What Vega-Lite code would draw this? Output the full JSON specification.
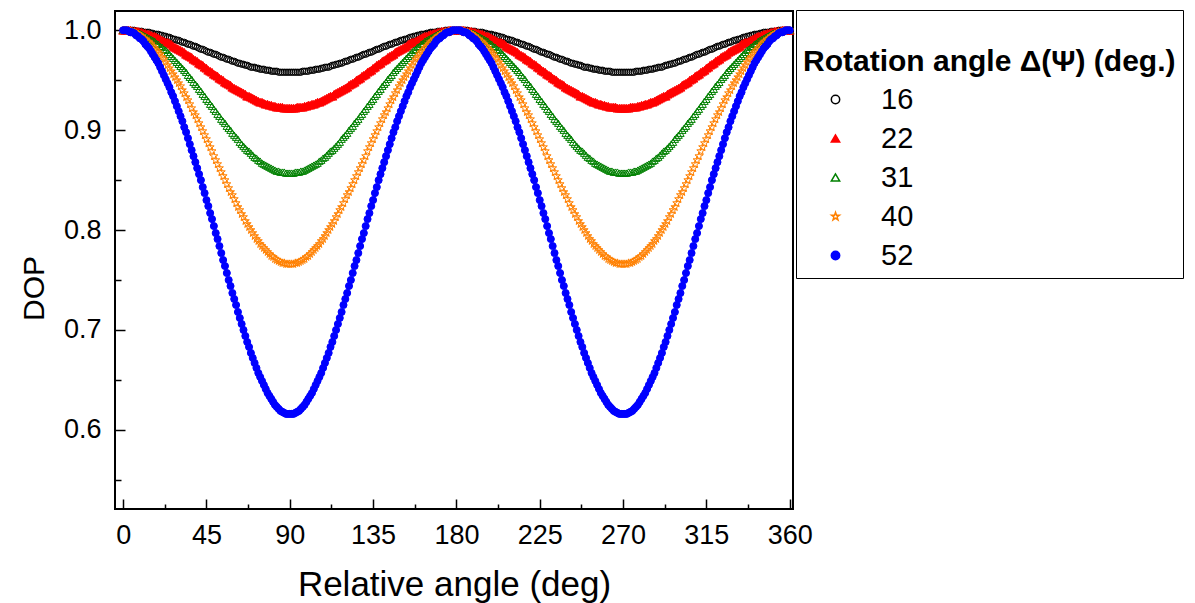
{"$schema":"https://vega.github.io/schema/vega-lite/v6.json","width":678,"height":498,"autosize":{"type":"none"},"padding":{"left":115,"top":11,"right":402,"bottom":94},"background":"white",
"config":{"view":{"stroke":"black","strokeWidth":2},"font":"Liberation Sans",
"axis":{"domain":false,"grid":false,"tickColor":"black","tickWidth":1.5,"labelColor":"black","labelFont":"Liberation Sans","titleFont":"Liberation Sans","titleColor":"black","titleFontWeight":"normal"},
"legend":{"padding":7,"strokeColor":"black","strokeWidth":1,"fillColor":"white","titleFont":"Liberation Sans","titleFontSize":30,"titleFontWeight":"bold","titleColor":"black","titleLineHeight":30,"titlePadding":8,"titleLimit":1000,"labelFont":"Liberation Sans","labelFontSize":29,"labelColor":"black","labelOffset":31,"labelLimit":300,"symbolOffset":18,"symbolSize":70,"symbolStrokeWidth":1.5,"rowPadding":9}},
"datasets":{
"s16":[{"deg":0,"dop":1},{"deg":1,"dop":1},{"deg":2,"dop":1},{"deg":3,"dop":1},{"deg":4,"dop":1},{"deg":5,"dop":1},{"deg":6,"dop":1},{"deg":7,"dop":0.999},{"deg":8,"dop":0.999},{"deg":9,"dop":0.999},{"deg":10,"dop":0.999},{"deg":11,"dop":0.998},{"deg":12,"dop":0.998},{"deg":13,"dop":0.998},{"deg":14,"dop":0.998},{"deg":15,"dop":0.997},{"deg":16,"dop":0.997},{"deg":17,"dop":0.996},{"deg":18,"dop":0.996},{"deg":19,"dop":0.996},{"deg":20,"dop":0.995},{"deg":21,"dop":0.995},{"deg":22,"dop":0.994},{"deg":23,"dop":0.994},{"deg":24,"dop":0.993},{"deg":25,"dop":0.993},{"deg":26,"dop":0.992},{"deg":27,"dop":0.991},{"deg":28,"dop":0.991},{"deg":29,"dop":0.99},{"deg":30,"dop":0.99},{"deg":31,"dop":0.989},{"deg":32,"dop":0.988},{"deg":33,"dop":0.988},{"deg":34,"dop":0.987},{"deg":35,"dop":0.986},{"deg":36,"dop":0.986},{"deg":37,"dop":0.985},{"deg":38,"dop":0.984},{"deg":39,"dop":0.984},{"deg":40,"dop":0.983},{"deg":41,"dop":0.982},{"deg":42,"dop":0.981},{"deg":43,"dop":0.981},{"deg":44,"dop":0.98},{"deg":45,"dop":0.979},{"deg":46,"dop":0.978},{"deg":47,"dop":0.978},{"deg":48,"dop":0.977},{"deg":49,"dop":0.976},{"deg":50,"dop":0.976},{"deg":51,"dop":0.975},{"deg":52,"dop":0.974},{"deg":53,"dop":0.973},{"deg":54,"dop":0.973},{"deg":55,"dop":0.972},{"deg":56,"dop":0.971},{"deg":57,"dop":0.971},{"deg":58,"dop":0.97},{"deg":59,"dop":0.969},{"deg":60,"dop":0.969},{"deg":61,"dop":0.968},{"deg":62,"dop":0.967},{"deg":63,"dop":0.967},{"deg":64,"dop":0.966},{"deg":65,"dop":0.966},{"deg":66,"dop":0.965},{"deg":67,"dop":0.965},{"deg":68,"dop":0.964},{"deg":69,"dop":0.963},{"deg":70,"dop":0.963},{"deg":71,"dop":0.963},{"deg":72,"dop":0.962},{"deg":73,"dop":0.962},{"deg":74,"dop":0.961},{"deg":75,"dop":0.961},{"deg":76,"dop":0.961},{"deg":77,"dop":0.96},{"deg":78,"dop":0.96},{"deg":79,"dop":0.96},{"deg":80,"dop":0.959},{"deg":81,"dop":0.959},{"deg":82,"dop":0.959},{"deg":83,"dop":0.959},{"deg":84,"dop":0.958},{"deg":85,"dop":0.958},{"deg":86,"dop":0.958},{"deg":87,"dop":0.958},{"deg":88,"dop":0.958},{"deg":89,"dop":0.958},{"deg":90,"dop":0.958},{"deg":91,"dop":0.958},{"deg":92,"dop":0.958},{"deg":93,"dop":0.958},{"deg":94,"dop":0.958},{"deg":95,"dop":0.958},{"deg":96,"dop":0.958},{"deg":97,"dop":0.959},{"deg":98,"dop":0.959},{"deg":99,"dop":0.959},{"deg":100,"dop":0.959},{"deg":101,"dop":0.96},{"deg":102,"dop":0.96},{"deg":103,"dop":0.96},{"deg":104,"dop":0.961},{"deg":105,"dop":0.961},{"deg":106,"dop":0.961},{"deg":107,"dop":0.962},{"deg":108,"dop":0.962},{"deg":109,"dop":0.963},{"deg":110,"dop":0.963},{"deg":111,"dop":0.963},{"deg":112,"dop":0.964},{"deg":113,"dop":0.965},{"deg":114,"dop":0.965},{"deg":115,"dop":0.966},{"deg":116,"dop":0.966},{"deg":117,"dop":0.967},{"deg":118,"dop":0.967},{"deg":119,"dop":0.968},{"deg":120,"dop":0.969},{"deg":121,"dop":0.969},{"deg":122,"dop":0.97},{"deg":123,"dop":0.971},{"deg":124,"dop":0.971},{"deg":125,"dop":0.972},{"deg":126,"dop":0.973},{"deg":127,"dop":0.973},{"deg":128,"dop":0.974},{"deg":129,"dop":0.975},{"deg":130,"dop":0.976},{"deg":131,"dop":0.976},{"deg":132,"dop":0.977},{"deg":133,"dop":0.978},{"deg":134,"dop":0.978},{"deg":135,"dop":0.979},{"deg":136,"dop":0.98},{"deg":137,"dop":0.981},{"deg":138,"dop":0.981},{"deg":139,"dop":0.982},{"deg":140,"dop":0.983},{"deg":141,"dop":0.984},{"deg":142,"dop":0.984},{"deg":143,"dop":0.985},{"deg":144,"dop":0.986},{"deg":145,"dop":0.986},{"deg":146,"dop":0.987},{"deg":147,"dop":0.988},{"deg":148,"dop":0.988},{"deg":149,"dop":0.989},{"deg":150,"dop":0.99},{"deg":151,"dop":0.99},{"deg":152,"dop":0.991},{"deg":153,"dop":0.991},{"deg":154,"dop":0.992},{"deg":155,"dop":0.993},{"deg":156,"dop":0.993},{"deg":157,"dop":0.994},{"deg":158,"dop":0.994},{"deg":159,"dop":0.995},{"deg":160,"dop":0.995},{"deg":161,"dop":0.996},{"deg":162,"dop":0.996},{"deg":163,"dop":0.996},{"deg":164,"dop":0.997},{"deg":165,"dop":0.997},{"deg":166,"dop":0.998},{"deg":167,"dop":0.998},{"deg":168,"dop":0.998},{"deg":169,"dop":0.998},{"deg":170,"dop":0.999},{"deg":171,"dop":0.999},{"deg":172,"dop":0.999},{"deg":173,"dop":0.999},{"deg":174,"dop":1},{"deg":175,"dop":1},{"deg":176,"dop":1},{"deg":177,"dop":1},{"deg":178,"dop":1},{"deg":179,"dop":1},{"deg":180,"dop":1},{"deg":181,"dop":1},{"deg":182,"dop":1},{"deg":183,"dop":1},{"deg":184,"dop":1},{"deg":185,"dop":1},{"deg":186,"dop":1},{"deg":187,"dop":0.999},{"deg":188,"dop":0.999},{"deg":189,"dop":0.999},{"deg":190,"dop":0.999},{"deg":191,"dop":0.998},{"deg":192,"dop":0.998},{"deg":193,"dop":0.998},{"deg":194,"dop":0.998},{"deg":195,"dop":0.997},{"deg":196,"dop":0.997},{"deg":197,"dop":0.996},{"deg":198,"dop":0.996},{"deg":199,"dop":0.996},{"deg":200,"dop":0.995},{"deg":201,"dop":0.995},{"deg":202,"dop":0.994},{"deg":203,"dop":0.994},{"deg":204,"dop":0.993},{"deg":205,"dop":0.993},{"deg":206,"dop":0.992},{"deg":207,"dop":0.991},{"deg":208,"dop":0.991},{"deg":209,"dop":0.99},{"deg":210,"dop":0.99},{"deg":211,"dop":0.989},{"deg":212,"dop":0.988},{"deg":213,"dop":0.988},{"deg":214,"dop":0.987},{"deg":215,"dop":0.986},{"deg":216,"dop":0.986},{"deg":217,"dop":0.985},{"deg":218,"dop":0.984},{"deg":219,"dop":0.984},{"deg":220,"dop":0.983},{"deg":221,"dop":0.982},{"deg":222,"dop":0.981},{"deg":223,"dop":0.981},{"deg":224,"dop":0.98},{"deg":225,"dop":0.979},{"deg":226,"dop":0.978},{"deg":227,"dop":0.978},{"deg":228,"dop":0.977},{"deg":229,"dop":0.976},{"deg":230,"dop":0.976},{"deg":231,"dop":0.975},{"deg":232,"dop":0.974},{"deg":233,"dop":0.973},{"deg":234,"dop":0.973},{"deg":235,"dop":0.972},{"deg":236,"dop":0.971},{"deg":237,"dop":0.971},{"deg":238,"dop":0.97},{"deg":239,"dop":0.969},{"deg":240,"dop":0.969},{"deg":241,"dop":0.968},{"deg":242,"dop":0.967},{"deg":243,"dop":0.967},{"deg":244,"dop":0.966},{"deg":245,"dop":0.966},{"deg":246,"dop":0.965},{"deg":247,"dop":0.965},{"deg":248,"dop":0.964},{"deg":249,"dop":0.963},{"deg":250,"dop":0.963},{"deg":251,"dop":0.963},{"deg":252,"dop":0.962},{"deg":253,"dop":0.962},{"deg":254,"dop":0.961},{"deg":255,"dop":0.961},{"deg":256,"dop":0.961},{"deg":257,"dop":0.96},{"deg":258,"dop":0.96},{"deg":259,"dop":0.96},{"deg":260,"dop":0.959},{"deg":261,"dop":0.959},{"deg":262,"dop":0.959},{"deg":263,"dop":0.959},{"deg":264,"dop":0.958},{"deg":265,"dop":0.958},{"deg":266,"dop":0.958},{"deg":267,"dop":0.958},{"deg":268,"dop":0.958},{"deg":269,"dop":0.958},{"deg":270,"dop":0.958},{"deg":271,"dop":0.958},{"deg":272,"dop":0.958},{"deg":273,"dop":0.958},{"deg":274,"dop":0.958},{"deg":275,"dop":0.958},{"deg":276,"dop":0.958},{"deg":277,"dop":0.959},{"deg":278,"dop":0.959},{"deg":279,"dop":0.959},{"deg":280,"dop":0.959},{"deg":281,"dop":0.96},{"deg":282,"dop":0.96},{"deg":283,"dop":0.96},{"deg":284,"dop":0.961},{"deg":285,"dop":0.961},{"deg":286,"dop":0.961},{"deg":287,"dop":0.962},{"deg":288,"dop":0.962},{"deg":289,"dop":0.963},{"deg":290,"dop":0.963},{"deg":291,"dop":0.963},{"deg":292,"dop":0.964},{"deg":293,"dop":0.965},{"deg":294,"dop":0.965},{"deg":295,"dop":0.966},{"deg":296,"dop":0.966},{"deg":297,"dop":0.967},{"deg":298,"dop":0.967},{"deg":299,"dop":0.968},{"deg":300,"dop":0.969},{"deg":301,"dop":0.969},{"deg":302,"dop":0.97},{"deg":303,"dop":0.971},{"deg":304,"dop":0.971},{"deg":305,"dop":0.972},{"deg":306,"dop":0.973},{"deg":307,"dop":0.973},{"deg":308,"dop":0.974},{"deg":309,"dop":0.975},{"deg":310,"dop":0.976},{"deg":311,"dop":0.976},{"deg":312,"dop":0.977},{"deg":313,"dop":0.978},{"deg":314,"dop":0.978},{"deg":315,"dop":0.979},{"deg":316,"dop":0.98},{"deg":317,"dop":0.981},{"deg":318,"dop":0.981},{"deg":319,"dop":0.982},{"deg":320,"dop":0.983},{"deg":321,"dop":0.984},{"deg":322,"dop":0.984},{"deg":323,"dop":0.985},{"deg":324,"dop":0.986},{"deg":325,"dop":0.986},{"deg":326,"dop":0.987},{"deg":327,"dop":0.988},{"deg":328,"dop":0.988},{"deg":329,"dop":0.989},{"deg":330,"dop":0.99},{"deg":331,"dop":0.99},{"deg":332,"dop":0.991},{"deg":333,"dop":0.991},{"deg":334,"dop":0.992},{"deg":335,"dop":0.993},{"deg":336,"dop":0.993},{"deg":337,"dop":0.994},{"deg":338,"dop":0.994},{"deg":339,"dop":0.995},{"deg":340,"dop":0.995},{"deg":341,"dop":0.996},{"deg":342,"dop":0.996},{"deg":343,"dop":0.996},{"deg":344,"dop":0.997},{"deg":345,"dop":0.997},{"deg":346,"dop":0.998},{"deg":347,"dop":0.998},{"deg":348,"dop":0.998},{"deg":349,"dop":0.998},{"deg":350,"dop":0.999},{"deg":351,"dop":0.999},{"deg":352,"dop":0.999},{"deg":353,"dop":0.999},{"deg":354,"dop":1},{"deg":355,"dop":1},{"deg":356,"dop":1},{"deg":357,"dop":1},{"deg":358,"dop":1},{"deg":359,"dop":1},{"deg":360,"dop":1}],
"s22":[{"deg":0,"dop":1},{"deg":1,"dop":1},{"deg":2,"dop":1},{"deg":3,"dop":1},{"deg":4,"dop":1},{"deg":5,"dop":0.999},{"deg":6,"dop":0.999},{"deg":7,"dop":0.999},{"deg":8,"dop":0.999},{"deg":9,"dop":0.998},{"deg":10,"dop":0.998},{"deg":11,"dop":0.997},{"deg":12,"dop":0.997},{"deg":13,"dop":0.996},{"deg":14,"dop":0.996},{"deg":15,"dop":0.995},{"deg":16,"dop":0.994},{"deg":17,"dop":0.994},{"deg":18,"dop":0.993},{"deg":19,"dop":0.992},{"deg":20,"dop":0.991},{"deg":21,"dop":0.99},{"deg":22,"dop":0.989},{"deg":23,"dop":0.988},{"deg":24,"dop":0.988},{"deg":25,"dop":0.987},{"deg":26,"dop":0.986},{"deg":27,"dop":0.984},{"deg":28,"dop":0.983},{"deg":29,"dop":0.982},{"deg":30,"dop":0.981},{"deg":31,"dop":0.98},{"deg":32,"dop":0.979},{"deg":33,"dop":0.978},{"deg":34,"dop":0.976},{"deg":35,"dop":0.975},{"deg":36,"dop":0.974},{"deg":37,"dop":0.973},{"deg":38,"dop":0.971},{"deg":39,"dop":0.97},{"deg":40,"dop":0.969},{"deg":41,"dop":0.967},{"deg":42,"dop":0.966},{"deg":43,"dop":0.965},{"deg":44,"dop":0.963},{"deg":45,"dop":0.962},{"deg":46,"dop":0.96},{"deg":47,"dop":0.959},{"deg":48,"dop":0.958},{"deg":49,"dop":0.956},{"deg":50,"dop":0.955},{"deg":51,"dop":0.954},{"deg":52,"dop":0.952},{"deg":53,"dop":0.951},{"deg":54,"dop":0.95},{"deg":55,"dop":0.948},{"deg":56,"dop":0.947},{"deg":57,"dop":0.946},{"deg":58,"dop":0.945},{"deg":59,"dop":0.943},{"deg":60,"dop":0.942},{"deg":61,"dop":0.941},{"deg":62,"dop":0.94},{"deg":63,"dop":0.939},{"deg":64,"dop":0.938},{"deg":65,"dop":0.937},{"deg":66,"dop":0.936},{"deg":67,"dop":0.934},{"deg":68,"dop":0.934},{"deg":69,"dop":0.933},{"deg":70,"dop":0.932},{"deg":71,"dop":0.931},{"deg":72,"dop":0.93},{"deg":73,"dop":0.929},{"deg":74,"dop":0.928},{"deg":75,"dop":0.928},{"deg":76,"dop":0.927},{"deg":77,"dop":0.926},{"deg":78,"dop":0.926},{"deg":79,"dop":0.925},{"deg":80,"dop":0.925},{"deg":81,"dop":0.924},{"deg":82,"dop":0.924},{"deg":83,"dop":0.923},{"deg":84,"dop":0.923},{"deg":85,"dop":0.923},{"deg":86,"dop":0.923},{"deg":87,"dop":0.922},{"deg":88,"dop":0.922},{"deg":89,"dop":0.922},{"deg":90,"dop":0.922},{"deg":91,"dop":0.922},{"deg":92,"dop":0.922},{"deg":93,"dop":0.922},{"deg":94,"dop":0.923},{"deg":95,"dop":0.923},{"deg":96,"dop":0.923},{"deg":97,"dop":0.923},{"deg":98,"dop":0.924},{"deg":99,"dop":0.924},{"deg":100,"dop":0.925},{"deg":101,"dop":0.925},{"deg":102,"dop":0.926},{"deg":103,"dop":0.926},{"deg":104,"dop":0.927},{"deg":105,"dop":0.928},{"deg":106,"dop":0.928},{"deg":107,"dop":0.929},{"deg":108,"dop":0.93},{"deg":109,"dop":0.931},{"deg":110,"dop":0.932},{"deg":111,"dop":0.933},{"deg":112,"dop":0.934},{"deg":113,"dop":0.934},{"deg":114,"dop":0.936},{"deg":115,"dop":0.937},{"deg":116,"dop":0.938},{"deg":117,"dop":0.939},{"deg":118,"dop":0.94},{"deg":119,"dop":0.941},{"deg":120,"dop":0.942},{"deg":121,"dop":0.943},{"deg":122,"dop":0.945},{"deg":123,"dop":0.946},{"deg":124,"dop":0.947},{"deg":125,"dop":0.948},{"deg":126,"dop":0.95},{"deg":127,"dop":0.951},{"deg":128,"dop":0.952},{"deg":129,"dop":0.954},{"deg":130,"dop":0.955},{"deg":131,"dop":0.956},{"deg":132,"dop":0.958},{"deg":133,"dop":0.959},{"deg":134,"dop":0.96},{"deg":135,"dop":0.962},{"deg":136,"dop":0.963},{"deg":137,"dop":0.965},{"deg":138,"dop":0.966},{"deg":139,"dop":0.967},{"deg":140,"dop":0.969},{"deg":141,"dop":0.97},{"deg":142,"dop":0.971},{"deg":143,"dop":0.973},{"deg":144,"dop":0.974},{"deg":145,"dop":0.975},{"deg":146,"dop":0.976},{"deg":147,"dop":0.978},{"deg":148,"dop":0.979},{"deg":149,"dop":0.98},{"deg":150,"dop":0.981},{"deg":151,"dop":0.982},{"deg":152,"dop":0.983},{"deg":153,"dop":0.984},{"deg":154,"dop":0.986},{"deg":155,"dop":0.987},{"deg":156,"dop":0.988},{"deg":157,"dop":0.988},{"deg":158,"dop":0.989},{"deg":159,"dop":0.99},{"deg":160,"dop":0.991},{"deg":161,"dop":0.992},{"deg":162,"dop":0.993},{"deg":163,"dop":0.994},{"deg":164,"dop":0.994},{"deg":165,"dop":0.995},{"deg":166,"dop":0.996},{"deg":167,"dop":0.996},{"deg":168,"dop":0.997},{"deg":169,"dop":0.997},{"deg":170,"dop":0.998},{"deg":171,"dop":0.998},{"deg":172,"dop":0.999},{"deg":173,"dop":0.999},{"deg":174,"dop":0.999},{"deg":175,"dop":0.999},{"deg":176,"dop":1},{"deg":177,"dop":1},{"deg":178,"dop":1},{"deg":179,"dop":1},{"deg":180,"dop":1},{"deg":181,"dop":1},{"deg":182,"dop":1},{"deg":183,"dop":1},{"deg":184,"dop":1},{"deg":185,"dop":0.999},{"deg":186,"dop":0.999},{"deg":187,"dop":0.999},{"deg":188,"dop":0.999},{"deg":189,"dop":0.998},{"deg":190,"dop":0.998},{"deg":191,"dop":0.997},{"deg":192,"dop":0.997},{"deg":193,"dop":0.996},{"deg":194,"dop":0.996},{"deg":195,"dop":0.995},{"deg":196,"dop":0.994},{"deg":197,"dop":0.994},{"deg":198,"dop":0.993},{"deg":199,"dop":0.992},{"deg":200,"dop":0.991},{"deg":201,"dop":0.99},{"deg":202,"dop":0.989},{"deg":203,"dop":0.988},{"deg":204,"dop":0.988},{"deg":205,"dop":0.987},{"deg":206,"dop":0.986},{"deg":207,"dop":0.984},{"deg":208,"dop":0.983},{"deg":209,"dop":0.982},{"deg":210,"dop":0.981},{"deg":211,"dop":0.98},{"deg":212,"dop":0.979},{"deg":213,"dop":0.978},{"deg":214,"dop":0.976},{"deg":215,"dop":0.975},{"deg":216,"dop":0.974},{"deg":217,"dop":0.973},{"deg":218,"dop":0.971},{"deg":219,"dop":0.97},{"deg":220,"dop":0.969},{"deg":221,"dop":0.967},{"deg":222,"dop":0.966},{"deg":223,"dop":0.965},{"deg":224,"dop":0.963},{"deg":225,"dop":0.962},{"deg":226,"dop":0.96},{"deg":227,"dop":0.959},{"deg":228,"dop":0.958},{"deg":229,"dop":0.956},{"deg":230,"dop":0.955},{"deg":231,"dop":0.954},{"deg":232,"dop":0.952},{"deg":233,"dop":0.951},{"deg":234,"dop":0.95},{"deg":235,"dop":0.948},{"deg":236,"dop":0.947},{"deg":237,"dop":0.946},{"deg":238,"dop":0.945},{"deg":239,"dop":0.943},{"deg":240,"dop":0.942},{"deg":241,"dop":0.941},{"deg":242,"dop":0.94},{"deg":243,"dop":0.939},{"deg":244,"dop":0.938},{"deg":245,"dop":0.937},{"deg":246,"dop":0.936},{"deg":247,"dop":0.934},{"deg":248,"dop":0.934},{"deg":249,"dop":0.933},{"deg":250,"dop":0.932},{"deg":251,"dop":0.931},{"deg":252,"dop":0.93},{"deg":253,"dop":0.929},{"deg":254,"dop":0.928},{"deg":255,"dop":0.928},{"deg":256,"dop":0.927},{"deg":257,"dop":0.926},{"deg":258,"dop":0.926},{"deg":259,"dop":0.925},{"deg":260,"dop":0.925},{"deg":261,"dop":0.924},{"deg":262,"dop":0.924},{"deg":263,"dop":0.923},{"deg":264,"dop":0.923},{"deg":265,"dop":0.923},{"deg":266,"dop":0.923},{"deg":267,"dop":0.922},{"deg":268,"dop":0.922},{"deg":269,"dop":0.922},{"deg":270,"dop":0.922},{"deg":271,"dop":0.922},{"deg":272,"dop":0.922},{"deg":273,"dop":0.922},{"deg":274,"dop":0.923},{"deg":275,"dop":0.923},{"deg":276,"dop":0.923},{"deg":277,"dop":0.923},{"deg":278,"dop":0.924},{"deg":279,"dop":0.924},{"deg":280,"dop":0.925},{"deg":281,"dop":0.925},{"deg":282,"dop":0.926},{"deg":283,"dop":0.926},{"deg":284,"dop":0.927},{"deg":285,"dop":0.928},{"deg":286,"dop":0.928},{"deg":287,"dop":0.929},{"deg":288,"dop":0.93},{"deg":289,"dop":0.931},{"deg":290,"dop":0.932},{"deg":291,"dop":0.933},{"deg":292,"dop":0.934},{"deg":293,"dop":0.934},{"deg":294,"dop":0.936},{"deg":295,"dop":0.937},{"deg":296,"dop":0.938},{"deg":297,"dop":0.939},{"deg":298,"dop":0.94},{"deg":299,"dop":0.941},{"deg":300,"dop":0.942},{"deg":301,"dop":0.943},{"deg":302,"dop":0.945},{"deg":303,"dop":0.946},{"deg":304,"dop":0.947},{"deg":305,"dop":0.948},{"deg":306,"dop":0.95},{"deg":307,"dop":0.951},{"deg":308,"dop":0.952},{"deg":309,"dop":0.954},{"deg":310,"dop":0.955},{"deg":311,"dop":0.956},{"deg":312,"dop":0.958},{"deg":313,"dop":0.959},{"deg":314,"dop":0.96},{"deg":315,"dop":0.962},{"deg":316,"dop":0.963},{"deg":317,"dop":0.965},{"deg":318,"dop":0.966},{"deg":319,"dop":0.967},{"deg":320,"dop":0.969},{"deg":321,"dop":0.97},{"deg":322,"dop":0.971},{"deg":323,"dop":0.973},{"deg":324,"dop":0.974},{"deg":325,"dop":0.975},{"deg":326,"dop":0.976},{"deg":327,"dop":0.978},{"deg":328,"dop":0.979},{"deg":329,"dop":0.98},{"deg":330,"dop":0.981},{"deg":331,"dop":0.982},{"deg":332,"dop":0.983},{"deg":333,"dop":0.984},{"deg":334,"dop":0.986},{"deg":335,"dop":0.987},{"deg":336,"dop":0.988},{"deg":337,"dop":0.988},{"deg":338,"dop":0.989},{"deg":339,"dop":0.99},{"deg":340,"dop":0.991},{"deg":341,"dop":0.992},{"deg":342,"dop":0.993},{"deg":343,"dop":0.994},{"deg":344,"dop":0.994},{"deg":345,"dop":0.995},{"deg":346,"dop":0.996},{"deg":347,"dop":0.996},{"deg":348,"dop":0.997},{"deg":349,"dop":0.997},{"deg":350,"dop":0.998},{"deg":351,"dop":0.998},{"deg":352,"dop":0.999},{"deg":353,"dop":0.999},{"deg":354,"dop":0.999},{"deg":355,"dop":0.999},{"deg":356,"dop":1},{"deg":357,"dop":1},{"deg":358,"dop":1},{"deg":359,"dop":1},{"deg":360,"dop":1}],
"s31":[{"deg":0,"dop":1},{"deg":1,"dop":1},{"deg":2,"dop":1},{"deg":3,"dop":1},{"deg":4,"dop":0.999},{"deg":5,"dop":0.999},{"deg":6,"dop":0.999},{"deg":7,"dop":0.998},{"deg":8,"dop":0.997},{"deg":9,"dop":0.997},{"deg":10,"dop":0.996},{"deg":11,"dop":0.995},{"deg":12,"dop":0.994},{"deg":13,"dop":0.993},{"deg":14,"dop":0.992},{"deg":15,"dop":0.991},{"deg":16,"dop":0.99},{"deg":17,"dop":0.989},{"deg":18,"dop":0.987},{"deg":19,"dop":0.986},{"deg":20,"dop":0.984},{"deg":21,"dop":0.983},{"deg":22,"dop":0.981},{"deg":23,"dop":0.98},{"deg":24,"dop":0.978},{"deg":25,"dop":0.976},{"deg":26,"dop":0.974},{"deg":27,"dop":0.972},{"deg":28,"dop":0.97},{"deg":29,"dop":0.968},{"deg":30,"dop":0.966},{"deg":31,"dop":0.964},{"deg":32,"dop":0.962},{"deg":33,"dop":0.96},{"deg":34,"dop":0.958},{"deg":35,"dop":0.955},{"deg":36,"dop":0.953},{"deg":37,"dop":0.951},{"deg":38,"dop":0.948},{"deg":39,"dop":0.946},{"deg":40,"dop":0.944},{"deg":41,"dop":0.941},{"deg":42,"dop":0.939},{"deg":43,"dop":0.936},{"deg":44,"dop":0.934},{"deg":45,"dop":0.931},{"deg":46,"dop":0.929},{"deg":47,"dop":0.926},{"deg":48,"dop":0.924},{"deg":49,"dop":0.921},{"deg":50,"dop":0.919},{"deg":51,"dop":0.916},{"deg":52,"dop":0.914},{"deg":53,"dop":0.911},{"deg":54,"dop":0.909},{"deg":55,"dop":0.907},{"deg":56,"dop":0.904},{"deg":57,"dop":0.902},{"deg":58,"dop":0.9},{"deg":59,"dop":0.897},{"deg":60,"dop":0.895},{"deg":61,"dop":0.893},{"deg":62,"dop":0.891},{"deg":63,"dop":0.888},{"deg":64,"dop":0.886},{"deg":65,"dop":0.884},{"deg":66,"dop":0.882},{"deg":67,"dop":0.88},{"deg":68,"dop":0.879},{"deg":69,"dop":0.877},{"deg":70,"dop":0.875},{"deg":71,"dop":0.873},{"deg":72,"dop":0.872},{"deg":73,"dop":0.87},{"deg":74,"dop":0.869},{"deg":75,"dop":0.867},{"deg":76,"dop":0.866},{"deg":77,"dop":0.865},{"deg":78,"dop":0.864},{"deg":79,"dop":0.863},{"deg":80,"dop":0.862},{"deg":81,"dop":0.861},{"deg":82,"dop":0.86},{"deg":83,"dop":0.859},{"deg":84,"dop":0.859},{"deg":85,"dop":0.858},{"deg":86,"dop":0.858},{"deg":87,"dop":0.858},{"deg":88,"dop":0.857},{"deg":89,"dop":0.857},{"deg":90,"dop":0.857},{"deg":91,"dop":0.857},{"deg":92,"dop":0.857},{"deg":93,"dop":0.858},{"deg":94,"dop":0.858},{"deg":95,"dop":0.858},{"deg":96,"dop":0.859},{"deg":97,"dop":0.859},{"deg":98,"dop":0.86},{"deg":99,"dop":0.861},{"deg":100,"dop":0.862},{"deg":101,"dop":0.863},{"deg":102,"dop":0.864},{"deg":103,"dop":0.865},{"deg":104,"dop":0.866},{"deg":105,"dop":0.867},{"deg":106,"dop":0.869},{"deg":107,"dop":0.87},{"deg":108,"dop":0.872},{"deg":109,"dop":0.873},{"deg":110,"dop":0.875},{"deg":111,"dop":0.877},{"deg":112,"dop":0.879},{"deg":113,"dop":0.88},{"deg":114,"dop":0.882},{"deg":115,"dop":0.884},{"deg":116,"dop":0.886},{"deg":117,"dop":0.888},{"deg":118,"dop":0.891},{"deg":119,"dop":0.893},{"deg":120,"dop":0.895},{"deg":121,"dop":0.897},{"deg":122,"dop":0.9},{"deg":123,"dop":0.902},{"deg":124,"dop":0.904},{"deg":125,"dop":0.907},{"deg":126,"dop":0.909},{"deg":127,"dop":0.911},{"deg":128,"dop":0.914},{"deg":129,"dop":0.916},{"deg":130,"dop":0.919},{"deg":131,"dop":0.921},{"deg":132,"dop":0.924},{"deg":133,"dop":0.926},{"deg":134,"dop":0.929},{"deg":135,"dop":0.931},{"deg":136,"dop":0.934},{"deg":137,"dop":0.936},{"deg":138,"dop":0.939},{"deg":139,"dop":0.941},{"deg":140,"dop":0.944},{"deg":141,"dop":0.946},{"deg":142,"dop":0.948},{"deg":143,"dop":0.951},{"deg":144,"dop":0.953},{"deg":145,"dop":0.955},{"deg":146,"dop":0.958},{"deg":147,"dop":0.96},{"deg":148,"dop":0.962},{"deg":149,"dop":0.964},{"deg":150,"dop":0.966},{"deg":151,"dop":0.968},{"deg":152,"dop":0.97},{"deg":153,"dop":0.972},{"deg":154,"dop":0.974},{"deg":155,"dop":0.976},{"deg":156,"dop":0.978},{"deg":157,"dop":0.98},{"deg":158,"dop":0.981},{"deg":159,"dop":0.983},{"deg":160,"dop":0.984},{"deg":161,"dop":0.986},{"deg":162,"dop":0.987},{"deg":163,"dop":0.989},{"deg":164,"dop":0.99},{"deg":165,"dop":0.991},{"deg":166,"dop":0.992},{"deg":167,"dop":0.993},{"deg":168,"dop":0.994},{"deg":169,"dop":0.995},{"deg":170,"dop":0.996},{"deg":171,"dop":0.997},{"deg":172,"dop":0.997},{"deg":173,"dop":0.998},{"deg":174,"dop":0.999},{"deg":175,"dop":0.999},{"deg":176,"dop":0.999},{"deg":177,"dop":1},{"deg":178,"dop":1},{"deg":179,"dop":1},{"deg":180,"dop":1},{"deg":181,"dop":1},{"deg":182,"dop":1},{"deg":183,"dop":1},{"deg":184,"dop":0.999},{"deg":185,"dop":0.999},{"deg":186,"dop":0.999},{"deg":187,"dop":0.998},{"deg":188,"dop":0.997},{"deg":189,"dop":0.997},{"deg":190,"dop":0.996},{"deg":191,"dop":0.995},{"deg":192,"dop":0.994},{"deg":193,"dop":0.993},{"deg":194,"dop":0.992},{"deg":195,"dop":0.991},{"deg":196,"dop":0.99},{"deg":197,"dop":0.989},{"deg":198,"dop":0.987},{"deg":199,"dop":0.986},{"deg":200,"dop":0.984},{"deg":201,"dop":0.983},{"deg":202,"dop":0.981},{"deg":203,"dop":0.98},{"deg":204,"dop":0.978},{"deg":205,"dop":0.976},{"deg":206,"dop":0.974},{"deg":207,"dop":0.972},{"deg":208,"dop":0.97},{"deg":209,"dop":0.968},{"deg":210,"dop":0.966},{"deg":211,"dop":0.964},{"deg":212,"dop":0.962},{"deg":213,"dop":0.96},{"deg":214,"dop":0.958},{"deg":215,"dop":0.955},{"deg":216,"dop":0.953},{"deg":217,"dop":0.951},{"deg":218,"dop":0.948},{"deg":219,"dop":0.946},{"deg":220,"dop":0.944},{"deg":221,"dop":0.941},{"deg":222,"dop":0.939},{"deg":223,"dop":0.936},{"deg":224,"dop":0.934},{"deg":225,"dop":0.931},{"deg":226,"dop":0.929},{"deg":227,"dop":0.926},{"deg":228,"dop":0.924},{"deg":229,"dop":0.921},{"deg":230,"dop":0.919},{"deg":231,"dop":0.916},{"deg":232,"dop":0.914},{"deg":233,"dop":0.911},{"deg":234,"dop":0.909},{"deg":235,"dop":0.907},{"deg":236,"dop":0.904},{"deg":237,"dop":0.902},{"deg":238,"dop":0.9},{"deg":239,"dop":0.897},{"deg":240,"dop":0.895},{"deg":241,"dop":0.893},{"deg":242,"dop":0.891},{"deg":243,"dop":0.888},{"deg":244,"dop":0.886},{"deg":245,"dop":0.884},{"deg":246,"dop":0.882},{"deg":247,"dop":0.88},{"deg":248,"dop":0.879},{"deg":249,"dop":0.877},{"deg":250,"dop":0.875},{"deg":251,"dop":0.873},{"deg":252,"dop":0.872},{"deg":253,"dop":0.87},{"deg":254,"dop":0.869},{"deg":255,"dop":0.867},{"deg":256,"dop":0.866},{"deg":257,"dop":0.865},{"deg":258,"dop":0.864},{"deg":259,"dop":0.863},{"deg":260,"dop":0.862},{"deg":261,"dop":0.861},{"deg":262,"dop":0.86},{"deg":263,"dop":0.859},{"deg":264,"dop":0.859},{"deg":265,"dop":0.858},{"deg":266,"dop":0.858},{"deg":267,"dop":0.858},{"deg":268,"dop":0.857},{"deg":269,"dop":0.857},{"deg":270,"dop":0.857},{"deg":271,"dop":0.857},{"deg":272,"dop":0.857},{"deg":273,"dop":0.858},{"deg":274,"dop":0.858},{"deg":275,"dop":0.858},{"deg":276,"dop":0.859},{"deg":277,"dop":0.859},{"deg":278,"dop":0.86},{"deg":279,"dop":0.861},{"deg":280,"dop":0.862},{"deg":281,"dop":0.863},{"deg":282,"dop":0.864},{"deg":283,"dop":0.865},{"deg":284,"dop":0.866},{"deg":285,"dop":0.867},{"deg":286,"dop":0.869},{"deg":287,"dop":0.87},{"deg":288,"dop":0.872},{"deg":289,"dop":0.873},{"deg":290,"dop":0.875},{"deg":291,"dop":0.877},{"deg":292,"dop":0.879},{"deg":293,"dop":0.88},{"deg":294,"dop":0.882},{"deg":295,"dop":0.884},{"deg":296,"dop":0.886},{"deg":297,"dop":0.888},{"deg":298,"dop":0.891},{"deg":299,"dop":0.893},{"deg":300,"dop":0.895},{"deg":301,"dop":0.897},{"deg":302,"dop":0.9},{"deg":303,"dop":0.902},{"deg":304,"dop":0.904},{"deg":305,"dop":0.907},{"deg":306,"dop":0.909},{"deg":307,"dop":0.911},{"deg":308,"dop":0.914},{"deg":309,"dop":0.916},{"deg":310,"dop":0.919},{"deg":311,"dop":0.921},{"deg":312,"dop":0.924},{"deg":313,"dop":0.926},{"deg":314,"dop":0.929},{"deg":315,"dop":0.931},{"deg":316,"dop":0.934},{"deg":317,"dop":0.936},{"deg":318,"dop":0.939},{"deg":319,"dop":0.941},{"deg":320,"dop":0.944},{"deg":321,"dop":0.946},{"deg":322,"dop":0.948},{"deg":323,"dop":0.951},{"deg":324,"dop":0.953},{"deg":325,"dop":0.955},{"deg":326,"dop":0.958},{"deg":327,"dop":0.96},{"deg":328,"dop":0.962},{"deg":329,"dop":0.964},{"deg":330,"dop":0.966},{"deg":331,"dop":0.968},{"deg":332,"dop":0.97},{"deg":333,"dop":0.972},{"deg":334,"dop":0.974},{"deg":335,"dop":0.976},{"deg":336,"dop":0.978},{"deg":337,"dop":0.98},{"deg":338,"dop":0.981},{"deg":339,"dop":0.983},{"deg":340,"dop":0.984},{"deg":341,"dop":0.986},{"deg":342,"dop":0.987},{"deg":343,"dop":0.989},{"deg":344,"dop":0.99},{"deg":345,"dop":0.991},{"deg":346,"dop":0.992},{"deg":347,"dop":0.993},{"deg":348,"dop":0.994},{"deg":349,"dop":0.995},{"deg":350,"dop":0.996},{"deg":351,"dop":0.997},{"deg":352,"dop":0.997},{"deg":353,"dop":0.998},{"deg":354,"dop":0.999},{"deg":355,"dop":0.999},{"deg":356,"dop":0.999},{"deg":357,"dop":1},{"deg":358,"dop":1},{"deg":359,"dop":1},{"deg":360,"dop":1}],
"s40":[{"deg":0,"dop":1},{"deg":1,"dop":1},{"deg":2,"dop":1},{"deg":3,"dop":0.999},{"deg":4,"dop":0.999},{"deg":5,"dop":0.998},{"deg":6,"dop":0.998},{"deg":7,"dop":0.997},{"deg":8,"dop":0.996},{"deg":9,"dop":0.995},{"deg":10,"dop":0.994},{"deg":11,"dop":0.992},{"deg":12,"dop":0.991},{"deg":13,"dop":0.989},{"deg":14,"dop":0.988},{"deg":15,"dop":0.986},{"deg":16,"dop":0.984},{"deg":17,"dop":0.982},{"deg":18,"dop":0.98},{"deg":19,"dop":0.978},{"deg":20,"dop":0.976},{"deg":21,"dop":0.973},{"deg":22,"dop":0.971},{"deg":23,"dop":0.968},{"deg":24,"dop":0.965},{"deg":25,"dop":0.962},{"deg":26,"dop":0.959},{"deg":27,"dop":0.956},{"deg":28,"dop":0.953},{"deg":29,"dop":0.95},{"deg":30,"dop":0.947},{"deg":31,"dop":0.944},{"deg":32,"dop":0.94},{"deg":33,"dop":0.937},{"deg":34,"dop":0.933},{"deg":35,"dop":0.93},{"deg":36,"dop":0.926},{"deg":37,"dop":0.922},{"deg":38,"dop":0.918},{"deg":39,"dop":0.915},{"deg":40,"dop":0.911},{"deg":41,"dop":0.907},{"deg":42,"dop":0.903},{"deg":43,"dop":0.899},{"deg":44,"dop":0.895},{"deg":45,"dop":0.891},{"deg":46,"dop":0.887},{"deg":47,"dop":0.883},{"deg":48,"dop":0.879},{"deg":49,"dop":0.874},{"deg":50,"dop":0.87},{"deg":51,"dop":0.866},{"deg":52,"dop":0.862},{"deg":53,"dop":0.858},{"deg":54,"dop":0.854},{"deg":55,"dop":0.85},{"deg":56,"dop":0.846},{"deg":57,"dop":0.842},{"deg":58,"dop":0.838},{"deg":59,"dop":0.835},{"deg":60,"dop":0.831},{"deg":61,"dop":0.827},{"deg":62,"dop":0.823},{"deg":63,"dop":0.82},{"deg":64,"dop":0.816},{"deg":65,"dop":0.813},{"deg":66,"dop":0.809},{"deg":67,"dop":0.806},{"deg":68,"dop":0.803},{"deg":69,"dop":0.8},{"deg":70,"dop":0.797},{"deg":71,"dop":0.794},{"deg":72,"dop":0.791},{"deg":73,"dop":0.789},{"deg":74,"dop":0.786},{"deg":75,"dop":0.784},{"deg":76,"dop":0.782},{"deg":77,"dop":0.78},{"deg":78,"dop":0.778},{"deg":79,"dop":0.776},{"deg":80,"dop":0.774},{"deg":81,"dop":0.773},{"deg":82,"dop":0.771},{"deg":83,"dop":0.77},{"deg":84,"dop":0.769},{"deg":85,"dop":0.768},{"deg":86,"dop":0.767},{"deg":87,"dop":0.767},{"deg":88,"dop":0.766},{"deg":89,"dop":0.766},{"deg":90,"dop":0.766},{"deg":91,"dop":0.766},{"deg":92,"dop":0.766},{"deg":93,"dop":0.767},{"deg":94,"dop":0.767},{"deg":95,"dop":0.768},{"deg":96,"dop":0.769},{"deg":97,"dop":0.77},{"deg":98,"dop":0.771},{"deg":99,"dop":0.773},{"deg":100,"dop":0.774},{"deg":101,"dop":0.776},{"deg":102,"dop":0.778},{"deg":103,"dop":0.78},{"deg":104,"dop":0.782},{"deg":105,"dop":0.784},{"deg":106,"dop":0.786},{"deg":107,"dop":0.789},{"deg":108,"dop":0.791},{"deg":109,"dop":0.794},{"deg":110,"dop":0.797},{"deg":111,"dop":0.8},{"deg":112,"dop":0.803},{"deg":113,"dop":0.806},{"deg":114,"dop":0.809},{"deg":115,"dop":0.813},{"deg":116,"dop":0.816},{"deg":117,"dop":0.82},{"deg":118,"dop":0.823},{"deg":119,"dop":0.827},{"deg":120,"dop":0.831},{"deg":121,"dop":0.835},{"deg":122,"dop":0.838},{"deg":123,"dop":0.842},{"deg":124,"dop":0.846},{"deg":125,"dop":0.85},{"deg":126,"dop":0.854},{"deg":127,"dop":0.858},{"deg":128,"dop":0.862},{"deg":129,"dop":0.866},{"deg":130,"dop":0.87},{"deg":131,"dop":0.874},{"deg":132,"dop":0.879},{"deg":133,"dop":0.883},{"deg":134,"dop":0.887},{"deg":135,"dop":0.891},{"deg":136,"dop":0.895},{"deg":137,"dop":0.899},{"deg":138,"dop":0.903},{"deg":139,"dop":0.907},{"deg":140,"dop":0.911},{"deg":141,"dop":0.915},{"deg":142,"dop":0.918},{"deg":143,"dop":0.922},{"deg":144,"dop":0.926},{"deg":145,"dop":0.93},{"deg":146,"dop":0.933},{"deg":147,"dop":0.937},{"deg":148,"dop":0.94},{"deg":149,"dop":0.944},{"deg":150,"dop":0.947},{"deg":151,"dop":0.95},{"deg":152,"dop":0.953},{"deg":153,"dop":0.956},{"deg":154,"dop":0.959},{"deg":155,"dop":0.962},{"deg":156,"dop":0.965},{"deg":157,"dop":0.968},{"deg":158,"dop":0.971},{"deg":159,"dop":0.973},{"deg":160,"dop":0.976},{"deg":161,"dop":0.978},{"deg":162,"dop":0.98},{"deg":163,"dop":0.982},{"deg":164,"dop":0.984},{"deg":165,"dop":0.986},{"deg":166,"dop":0.988},{"deg":167,"dop":0.989},{"deg":168,"dop":0.991},{"deg":169,"dop":0.992},{"deg":170,"dop":0.994},{"deg":171,"dop":0.995},{"deg":172,"dop":0.996},{"deg":173,"dop":0.997},{"deg":174,"dop":0.998},{"deg":175,"dop":0.998},{"deg":176,"dop":0.999},{"deg":177,"dop":0.999},{"deg":178,"dop":1},{"deg":179,"dop":1},{"deg":180,"dop":1},{"deg":181,"dop":1},{"deg":182,"dop":1},{"deg":183,"dop":0.999},{"deg":184,"dop":0.999},{"deg":185,"dop":0.998},{"deg":186,"dop":0.998},{"deg":187,"dop":0.997},{"deg":188,"dop":0.996},{"deg":189,"dop":0.995},{"deg":190,"dop":0.994},{"deg":191,"dop":0.992},{"deg":192,"dop":0.991},{"deg":193,"dop":0.989},{"deg":194,"dop":0.988},{"deg":195,"dop":0.986},{"deg":196,"dop":0.984},{"deg":197,"dop":0.982},{"deg":198,"dop":0.98},{"deg":199,"dop":0.978},{"deg":200,"dop":0.976},{"deg":201,"dop":0.973},{"deg":202,"dop":0.971},{"deg":203,"dop":0.968},{"deg":204,"dop":0.965},{"deg":205,"dop":0.962},{"deg":206,"dop":0.959},{"deg":207,"dop":0.956},{"deg":208,"dop":0.953},{"deg":209,"dop":0.95},{"deg":210,"dop":0.947},{"deg":211,"dop":0.944},{"deg":212,"dop":0.94},{"deg":213,"dop":0.937},{"deg":214,"dop":0.933},{"deg":215,"dop":0.93},{"deg":216,"dop":0.926},{"deg":217,"dop":0.922},{"deg":218,"dop":0.918},{"deg":219,"dop":0.915},{"deg":220,"dop":0.911},{"deg":221,"dop":0.907},{"deg":222,"dop":0.903},{"deg":223,"dop":0.899},{"deg":224,"dop":0.895},{"deg":225,"dop":0.891},{"deg":226,"dop":0.887},{"deg":227,"dop":0.883},{"deg":228,"dop":0.879},{"deg":229,"dop":0.874},{"deg":230,"dop":0.87},{"deg":231,"dop":0.866},{"deg":232,"dop":0.862},{"deg":233,"dop":0.858},{"deg":234,"dop":0.854},{"deg":235,"dop":0.85},{"deg":236,"dop":0.846},{"deg":237,"dop":0.842},{"deg":238,"dop":0.838},{"deg":239,"dop":0.835},{"deg":240,"dop":0.831},{"deg":241,"dop":0.827},{"deg":242,"dop":0.823},{"deg":243,"dop":0.82},{"deg":244,"dop":0.816},{"deg":245,"dop":0.813},{"deg":246,"dop":0.809},{"deg":247,"dop":0.806},{"deg":248,"dop":0.803},{"deg":249,"dop":0.8},{"deg":250,"dop":0.797},{"deg":251,"dop":0.794},{"deg":252,"dop":0.791},{"deg":253,"dop":0.789},{"deg":254,"dop":0.786},{"deg":255,"dop":0.784},{"deg":256,"dop":0.782},{"deg":257,"dop":0.78},{"deg":258,"dop":0.778},{"deg":259,"dop":0.776},{"deg":260,"dop":0.774},{"deg":261,"dop":0.773},{"deg":262,"dop":0.771},{"deg":263,"dop":0.77},{"deg":264,"dop":0.769},{"deg":265,"dop":0.768},{"deg":266,"dop":0.767},{"deg":267,"dop":0.767},{"deg":268,"dop":0.766},{"deg":269,"dop":0.766},{"deg":270,"dop":0.766},{"deg":271,"dop":0.766},{"deg":272,"dop":0.766},{"deg":273,"dop":0.767},{"deg":274,"dop":0.767},{"deg":275,"dop":0.768},{"deg":276,"dop":0.769},{"deg":277,"dop":0.77},{"deg":278,"dop":0.771},{"deg":279,"dop":0.773},{"deg":280,"dop":0.774},{"deg":281,"dop":0.776},{"deg":282,"dop":0.778},{"deg":283,"dop":0.78},{"deg":284,"dop":0.782},{"deg":285,"dop":0.784},{"deg":286,"dop":0.786},{"deg":287,"dop":0.789},{"deg":288,"dop":0.791},{"deg":289,"dop":0.794},{"deg":290,"dop":0.797},{"deg":291,"dop":0.8},{"deg":292,"dop":0.803},{"deg":293,"dop":0.806},{"deg":294,"dop":0.809},{"deg":295,"dop":0.813},{"deg":296,"dop":0.816},{"deg":297,"dop":0.82},{"deg":298,"dop":0.823},{"deg":299,"dop":0.827},{"deg":300,"dop":0.831},{"deg":301,"dop":0.835},{"deg":302,"dop":0.838},{"deg":303,"dop":0.842},{"deg":304,"dop":0.846},{"deg":305,"dop":0.85},{"deg":306,"dop":0.854},{"deg":307,"dop":0.858},{"deg":308,"dop":0.862},{"deg":309,"dop":0.866},{"deg":310,"dop":0.87},{"deg":311,"dop":0.874},{"deg":312,"dop":0.879},{"deg":313,"dop":0.883},{"deg":314,"dop":0.887},{"deg":315,"dop":0.891},{"deg":316,"dop":0.895},{"deg":317,"dop":0.899},{"deg":318,"dop":0.903},{"deg":319,"dop":0.907},{"deg":320,"dop":0.911},{"deg":321,"dop":0.915},{"deg":322,"dop":0.918},{"deg":323,"dop":0.922},{"deg":324,"dop":0.926},{"deg":325,"dop":0.93},{"deg":326,"dop":0.933},{"deg":327,"dop":0.937},{"deg":328,"dop":0.94},{"deg":329,"dop":0.944},{"deg":330,"dop":0.947},{"deg":331,"dop":0.95},{"deg":332,"dop":0.953},{"deg":333,"dop":0.956},{"deg":334,"dop":0.959},{"deg":335,"dop":0.962},{"deg":336,"dop":0.965},{"deg":337,"dop":0.968},{"deg":338,"dop":0.971},{"deg":339,"dop":0.973},{"deg":340,"dop":0.976},{"deg":341,"dop":0.978},{"deg":342,"dop":0.98},{"deg":343,"dop":0.982},{"deg":344,"dop":0.984},{"deg":345,"dop":0.986},{"deg":346,"dop":0.988},{"deg":347,"dop":0.989},{"deg":348,"dop":0.991},{"deg":349,"dop":0.992},{"deg":350,"dop":0.994},{"deg":351,"dop":0.995},{"deg":352,"dop":0.996},{"deg":353,"dop":0.997},{"deg":354,"dop":0.998},{"deg":355,"dop":0.998},{"deg":356,"dop":0.999},{"deg":357,"dop":0.999},{"deg":358,"dop":1},{"deg":359,"dop":1},{"deg":360,"dop":1}],
"s52":[{"deg":0,"dop":1},{"deg":1,"dop":1},{"deg":2,"dop":1},{"deg":3,"dop":0.999},{"deg":4,"dop":0.998},{"deg":5,"dop":0.998},{"deg":6,"dop":0.997},{"deg":7,"dop":0.995},{"deg":8,"dop":0.994},{"deg":9,"dop":0.992},{"deg":10,"dop":0.991},{"deg":11,"dop":0.989},{"deg":12,"dop":0.986},{"deg":13,"dop":0.984},{"deg":14,"dop":0.982},{"deg":15,"dop":0.979},{"deg":16,"dop":0.976},{"deg":17,"dop":0.973},{"deg":18,"dop":0.97},{"deg":19,"dop":0.967},{"deg":20,"dop":0.963},{"deg":21,"dop":0.959},{"deg":22,"dop":0.955},{"deg":23,"dop":0.951},{"deg":24,"dop":0.947},{"deg":25,"dop":0.943},{"deg":26,"dop":0.938},{"deg":27,"dop":0.934},{"deg":28,"dop":0.929},{"deg":29,"dop":0.924},{"deg":30,"dop":0.919},{"deg":31,"dop":0.914},{"deg":32,"dop":0.909},{"deg":33,"dop":0.903},{"deg":34,"dop":0.898},{"deg":35,"dop":0.892},{"deg":36,"dop":0.886},{"deg":37,"dop":0.88},{"deg":38,"dop":0.874},{"deg":39,"dop":0.868},{"deg":40,"dop":0.862},{"deg":41,"dop":0.856},{"deg":42,"dop":0.85},{"deg":43,"dop":0.843},{"deg":44,"dop":0.837},{"deg":45,"dop":0.83},{"deg":46,"dop":0.824},{"deg":47,"dop":0.817},{"deg":48,"dop":0.811},{"deg":49,"dop":0.804},{"deg":50,"dop":0.797},{"deg":51,"dop":0.791},{"deg":52,"dop":0.784},{"deg":53,"dop":0.777},{"deg":54,"dop":0.77},{"deg":55,"dop":0.764},{"deg":56,"dop":0.757},{"deg":57,"dop":0.75},{"deg":58,"dop":0.744},{"deg":59,"dop":0.737},{"deg":60,"dop":0.731},{"deg":61,"dop":0.725},{"deg":62,"dop":0.718},{"deg":63,"dop":0.712},{"deg":64,"dop":0.706},{"deg":65,"dop":0.7},{"deg":66,"dop":0.694},{"deg":67,"dop":0.688},{"deg":68,"dop":0.683},{"deg":69,"dop":0.677},{"deg":70,"dop":0.672},{"deg":71,"dop":0.667},{"deg":72,"dop":0.662},{"deg":73,"dop":0.657},{"deg":74,"dop":0.653},{"deg":75,"dop":0.649},{"deg":76,"dop":0.645},{"deg":77,"dop":0.641},{"deg":78,"dop":0.637},{"deg":79,"dop":0.634},{"deg":80,"dop":0.631},{"deg":81,"dop":0.628},{"deg":82,"dop":0.625},{"deg":83,"dop":0.623},{"deg":84,"dop":0.621},{"deg":85,"dop":0.619},{"deg":86,"dop":0.618},{"deg":87,"dop":0.617},{"deg":88,"dop":0.616},{"deg":89,"dop":0.616},{"deg":90,"dop":0.616},{"deg":91,"dop":0.616},{"deg":92,"dop":0.616},{"deg":93,"dop":0.617},{"deg":94,"dop":0.618},{"deg":95,"dop":0.619},{"deg":96,"dop":0.621},{"deg":97,"dop":0.623},{"deg":98,"dop":0.625},{"deg":99,"dop":0.628},{"deg":100,"dop":0.631},{"deg":101,"dop":0.634},{"deg":102,"dop":0.637},{"deg":103,"dop":0.641},{"deg":104,"dop":0.645},{"deg":105,"dop":0.649},{"deg":106,"dop":0.653},{"deg":107,"dop":0.657},{"deg":108,"dop":0.662},{"deg":109,"dop":0.667},{"deg":110,"dop":0.672},{"deg":111,"dop":0.677},{"deg":112,"dop":0.683},{"deg":113,"dop":0.688},{"deg":114,"dop":0.694},{"deg":115,"dop":0.7},{"deg":116,"dop":0.706},{"deg":117,"dop":0.712},{"deg":118,"dop":0.718},{"deg":119,"dop":0.725},{"deg":120,"dop":0.731},{"deg":121,"dop":0.737},{"deg":122,"dop":0.744},{"deg":123,"dop":0.75},{"deg":124,"dop":0.757},{"deg":125,"dop":0.764},{"deg":126,"dop":0.77},{"deg":127,"dop":0.777},{"deg":128,"dop":0.784},{"deg":129,"dop":0.791},{"deg":130,"dop":0.797},{"deg":131,"dop":0.804},{"deg":132,"dop":0.811},{"deg":133,"dop":0.817},{"deg":134,"dop":0.824},{"deg":135,"dop":0.83},{"deg":136,"dop":0.837},{"deg":137,"dop":0.843},{"deg":138,"dop":0.85},{"deg":139,"dop":0.856},{"deg":140,"dop":0.862},{"deg":141,"dop":0.868},{"deg":142,"dop":0.874},{"deg":143,"dop":0.88},{"deg":144,"dop":0.886},{"deg":145,"dop":0.892},{"deg":146,"dop":0.898},{"deg":147,"dop":0.903},{"deg":148,"dop":0.909},{"deg":149,"dop":0.914},{"deg":150,"dop":0.919},{"deg":151,"dop":0.924},{"deg":152,"dop":0.929},{"deg":153,"dop":0.934},{"deg":154,"dop":0.938},{"deg":155,"dop":0.943},{"deg":156,"dop":0.947},{"deg":157,"dop":0.951},{"deg":158,"dop":0.955},{"deg":159,"dop":0.959},{"deg":160,"dop":0.963},{"deg":161,"dop":0.967},{"deg":162,"dop":0.97},{"deg":163,"dop":0.973},{"deg":164,"dop":0.976},{"deg":165,"dop":0.979},{"deg":166,"dop":0.982},{"deg":167,"dop":0.984},{"deg":168,"dop":0.986},{"deg":169,"dop":0.989},{"deg":170,"dop":0.991},{"deg":171,"dop":0.992},{"deg":172,"dop":0.994},{"deg":173,"dop":0.995},{"deg":174,"dop":0.997},{"deg":175,"dop":0.998},{"deg":176,"dop":0.998},{"deg":177,"dop":0.999},{"deg":178,"dop":1},{"deg":179,"dop":1},{"deg":180,"dop":1},{"deg":181,"dop":1},{"deg":182,"dop":1},{"deg":183,"dop":0.999},{"deg":184,"dop":0.998},{"deg":185,"dop":0.998},{"deg":186,"dop":0.997},{"deg":187,"dop":0.995},{"deg":188,"dop":0.994},{"deg":189,"dop":0.992},{"deg":190,"dop":0.991},{"deg":191,"dop":0.989},{"deg":192,"dop":0.986},{"deg":193,"dop":0.984},{"deg":194,"dop":0.982},{"deg":195,"dop":0.979},{"deg":196,"dop":0.976},{"deg":197,"dop":0.973},{"deg":198,"dop":0.97},{"deg":199,"dop":0.967},{"deg":200,"dop":0.963},{"deg":201,"dop":0.959},{"deg":202,"dop":0.955},{"deg":203,"dop":0.951},{"deg":204,"dop":0.947},{"deg":205,"dop":0.943},{"deg":206,"dop":0.938},{"deg":207,"dop":0.934},{"deg":208,"dop":0.929},{"deg":209,"dop":0.924},{"deg":210,"dop":0.919},{"deg":211,"dop":0.914},{"deg":212,"dop":0.909},{"deg":213,"dop":0.903},{"deg":214,"dop":0.898},{"deg":215,"dop":0.892},{"deg":216,"dop":0.886},{"deg":217,"dop":0.88},{"deg":218,"dop":0.874},{"deg":219,"dop":0.868},{"deg":220,"dop":0.862},{"deg":221,"dop":0.856},{"deg":222,"dop":0.85},{"deg":223,"dop":0.843},{"deg":224,"dop":0.837},{"deg":225,"dop":0.83},{"deg":226,"dop":0.824},{"deg":227,"dop":0.817},{"deg":228,"dop":0.811},{"deg":229,"dop":0.804},{"deg":230,"dop":0.797},{"deg":231,"dop":0.791},{"deg":232,"dop":0.784},{"deg":233,"dop":0.777},{"deg":234,"dop":0.77},{"deg":235,"dop":0.764},{"deg":236,"dop":0.757},{"deg":237,"dop":0.75},{"deg":238,"dop":0.744},{"deg":239,"dop":0.737},{"deg":240,"dop":0.731},{"deg":241,"dop":0.725},{"deg":242,"dop":0.718},{"deg":243,"dop":0.712},{"deg":244,"dop":0.706},{"deg":245,"dop":0.7},{"deg":246,"dop":0.694},{"deg":247,"dop":0.688},{"deg":248,"dop":0.683},{"deg":249,"dop":0.677},{"deg":250,"dop":0.672},{"deg":251,"dop":0.667},{"deg":252,"dop":0.662},{"deg":253,"dop":0.657},{"deg":254,"dop":0.653},{"deg":255,"dop":0.649},{"deg":256,"dop":0.645},{"deg":257,"dop":0.641},{"deg":258,"dop":0.637},{"deg":259,"dop":0.634},{"deg":260,"dop":0.631},{"deg":261,"dop":0.628},{"deg":262,"dop":0.625},{"deg":263,"dop":0.623},{"deg":264,"dop":0.621},{"deg":265,"dop":0.619},{"deg":266,"dop":0.618},{"deg":267,"dop":0.617},{"deg":268,"dop":0.616},{"deg":269,"dop":0.616},{"deg":270,"dop":0.616},{"deg":271,"dop":0.616},{"deg":272,"dop":0.616},{"deg":273,"dop":0.617},{"deg":274,"dop":0.618},{"deg":275,"dop":0.619},{"deg":276,"dop":0.621},{"deg":277,"dop":0.623},{"deg":278,"dop":0.625},{"deg":279,"dop":0.628},{"deg":280,"dop":0.631},{"deg":281,"dop":0.634},{"deg":282,"dop":0.637},{"deg":283,"dop":0.641},{"deg":284,"dop":0.645},{"deg":285,"dop":0.649},{"deg":286,"dop":0.653},{"deg":287,"dop":0.657},{"deg":288,"dop":0.662},{"deg":289,"dop":0.667},{"deg":290,"dop":0.672},{"deg":291,"dop":0.677},{"deg":292,"dop":0.683},{"deg":293,"dop":0.688},{"deg":294,"dop":0.694},{"deg":295,"dop":0.7},{"deg":296,"dop":0.706},{"deg":297,"dop":0.712},{"deg":298,"dop":0.718},{"deg":299,"dop":0.725},{"deg":300,"dop":0.731},{"deg":301,"dop":0.737},{"deg":302,"dop":0.744},{"deg":303,"dop":0.75},{"deg":304,"dop":0.757},{"deg":305,"dop":0.764},{"deg":306,"dop":0.77},{"deg":307,"dop":0.777},{"deg":308,"dop":0.784},{"deg":309,"dop":0.791},{"deg":310,"dop":0.797},{"deg":311,"dop":0.804},{"deg":312,"dop":0.811},{"deg":313,"dop":0.817},{"deg":314,"dop":0.824},{"deg":315,"dop":0.83},{"deg":316,"dop":0.837},{"deg":317,"dop":0.843},{"deg":318,"dop":0.85},{"deg":319,"dop":0.856},{"deg":320,"dop":0.862},{"deg":321,"dop":0.868},{"deg":322,"dop":0.874},{"deg":323,"dop":0.88},{"deg":324,"dop":0.886},{"deg":325,"dop":0.892},{"deg":326,"dop":0.898},{"deg":327,"dop":0.903},{"deg":328,"dop":0.909},{"deg":329,"dop":0.914},{"deg":330,"dop":0.919},{"deg":331,"dop":0.924},{"deg":332,"dop":0.929},{"deg":333,"dop":0.934},{"deg":334,"dop":0.938},{"deg":335,"dop":0.943},{"deg":336,"dop":0.947},{"deg":337,"dop":0.951},{"deg":338,"dop":0.955},{"deg":339,"dop":0.959},{"deg":340,"dop":0.963},{"deg":341,"dop":0.967},{"deg":342,"dop":0.97},{"deg":343,"dop":0.973},{"deg":344,"dop":0.976},{"deg":345,"dop":0.979},{"deg":346,"dop":0.982},{"deg":347,"dop":0.984},{"deg":348,"dop":0.986},{"deg":349,"dop":0.989},{"deg":350,"dop":0.991},{"deg":351,"dop":0.992},{"deg":352,"dop":0.994},{"deg":353,"dop":0.995},{"deg":354,"dop":0.997},{"deg":355,"dop":0.998},{"deg":356,"dop":0.998},{"deg":357,"dop":0.999},{"deg":358,"dop":1},{"deg":359,"dop":1},{"deg":360,"dop":1}]
},
"resolve":{"axis":{"x":"independent","y":"independent"}},
"layer":[
{"data":{"name":"s16"},"mark":{"type":"point","opacity":1,"size":40,"strokeWidth":1},"encoding":{
"x":{"field":"deg","type":"quantitative","scale":{"domain":[-4.4,361.8],"nice":false,"zero":false},"axis":{"orient":"bottom","values":[22.5,67.5,112.5,157.5,202.5,247.5,292.5,337.5],"tickSize":-5,"labels":false,"title":null}},
"y":{"field":"dop","type":"quantitative","scale":{"domain":[0.5208,1.0193],"nice":false,"zero":false},"axis":{"orient":"left","values":[0.55,0.65,0.75,0.85,0.95],"tickSize":-6,"labels":false,"title":null}},
"stroke":{"datum":"16","type":"nominal","scale":{"domain":["16","22","31","40","52"],"range":["#000000","#ff0000","#008000","#ff8000","#0000ff"]},"legend":{"title":["","Rotation angle Δ(Ψ) (deg.)   "],"orient":"none","legendX":681,"legendY":-1}},
"fill":{"datum":"16","type":"nominal","scale":{"domain":["16","22","31","40","52"],"range":["transparent","#ff0000","transparent","transparent","#0000ff"]},"legend":{"title":["","Rotation angle Δ(Ψ) (deg.)   "],"orient":"none","legendX":681,"legendY":-1}},
"shape":{"datum":"16","type":"nominal","scale":{"domain":["16","22","31","40","52"],"range":["circle","triangle-up","triangle-up","M0,-1L0.235,-0.324L0.951,-0.309L0.38,0.124L0.588,0.809L0,0.4L-0.588,0.809L-0.38,0.124L-0.951,-0.309L-0.235,-0.324Z","circle"]},"legend":{"title":["","Rotation angle Δ(Ψ) (deg.)   "],"orient":"none","legendX":681,"legendY":-1}}}},
{"data":{"name":"s22"},"mark":{"type":"point","opacity":1,"size":80,"strokeWidth":1},"encoding":{
"x":{"field":"deg","type":"quantitative","scale":{"domain":[-4.4,361.8],"nice":false,"zero":false},"axis":null},
"y":{"field":"dop","type":"quantitative","scale":{"domain":[0.5208,1.0193],"nice":false,"zero":false},"axis":null},
"stroke":{"datum":"22","type":"nominal"},"fill":{"datum":"22","type":"nominal"},"shape":{"datum":"22","type":"nominal"}}},
{"data":{"name":"s31"},"mark":{"type":"point","opacity":1,"size":55,"strokeWidth":1},"encoding":{
"x":{"field":"deg","type":"quantitative","scale":{"domain":[-4.4,361.8],"nice":false,"zero":false},"axis":null},
"y":{"field":"dop","type":"quantitative","scale":{"domain":[0.5208,1.0193],"nice":false,"zero":false},"axis":null},
"stroke":{"datum":"31","type":"nominal"},"fill":{"datum":"31","type":"nominal"},"shape":{"datum":"31","type":"nominal"}}},
{"data":{"name":"s40"},"mark":{"type":"point","opacity":1,"size":70,"strokeWidth":1},"encoding":{
"x":{"field":"deg","type":"quantitative","scale":{"domain":[-4.4,361.8],"nice":false,"zero":false},"axis":null},
"y":{"field":"dop","type":"quantitative","scale":{"domain":[0.5208,1.0193],"nice":false,"zero":false},"axis":null},
"stroke":{"datum":"40","type":"nominal"},"fill":{"datum":"40","type":"nominal"},"shape":{"datum":"40","type":"nominal"}}},
{"data":{"name":"s52"},"mark":{"type":"point","opacity":1,"size":50,"strokeWidth":1},"encoding":{
"x":{"field":"deg","type":"quantitative","scale":{"domain":[-4.4,361.8],"nice":false,"zero":false},"axis":{"orient":"bottom","values":[0,45,90,135,180,225,270,315,360],"tickSize":-10,"labelFontSize":27,"labelPadding":44,"labelBaseline":"alphabetic","labelFlush":false,"labelOverlap":false,"title":"Relative angle (deg)","titleFontSize":35,"titleBaseline":"alphabetic","titleAlign":"center","titleX":339,"titleY":86}},
"y":{"field":"dop","type":"quantitative","scale":{"domain":[0.5208,1.0193],"nice":false,"zero":false},"axis":{"orient":"left","values":[0.6,0.7,0.8,0.9,1.0],"format":".1f","tickSize":-10,"labelFontSize":27,"labelPadding":24,"labelBaseline":"middle","labelAlign":"right","labelFlush":false,"labelOverlap":false,"title":"DOP","titleFontSize":30,"titleAngle":-90,"titleBaseline":"alphabetic","titleAlign":"center","titleX":-72,"titleY":277}},
"stroke":{"datum":"52","type":"nominal"},"fill":{"datum":"52","type":"nominal"},"shape":{"datum":"52","type":"nominal"}}}
]}
